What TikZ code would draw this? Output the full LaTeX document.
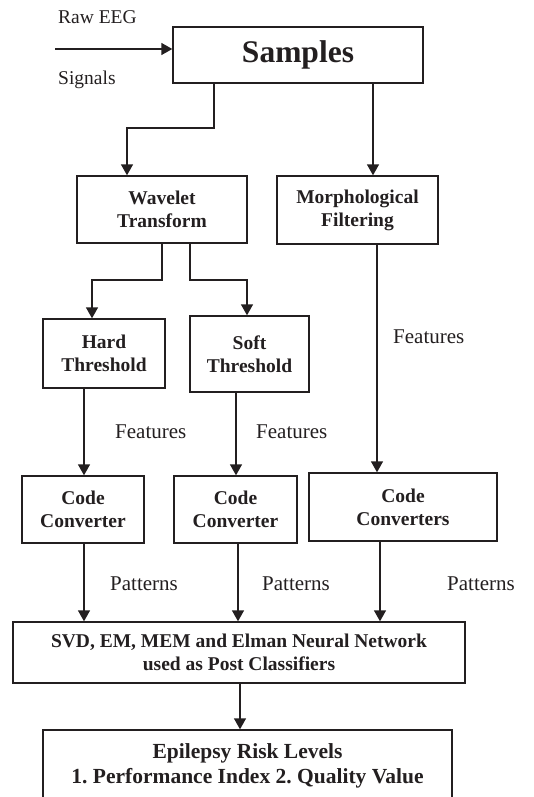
\documentclass[tikz,border=0pt]{standalone}
\usepackage{fontspec}
\setmainfont{Liberation Serif}
\usetikzlibrary{arrows.meta}
\definecolor{ink}{HTML}{231F20}
\begin{document}
\begin{tikzpicture}[x=1pt,y=-1pt,
  box/.style={draw=ink,line width=1.4pt,inner sep=0pt,align=center,text=ink,
    font=\fontsize{19.5}{23}\selectfont\bfseries},
  lbl/.style={inner sep=0pt,anchor=base west,text=ink,font=\fontsize{21}{24}\selectfont},
  arr/.style={draw=ink,line width=1.4pt,-{Triangle[length=11pt,width=12pt]}}]
\useasboundingbox[fill=white] (0,0) rectangle (533,797);
\node[box,minimum width=250pt,minimum height=56pt,font=\fontsize{31.5}{34}\selectfont\bfseries] (samples) at (298,55) {Samples};
\node[box,minimum width=170pt,minimum height=67pt] (wavelet) at (162,209.5) {Wavelet\\Transform};
\node[box,minimum width=161pt,minimum height=68pt] (morph) at (357.5,210) {Morphological\\Filtering};
\node[box,minimum width=122pt,minimum height=69pt] (hard) at (104,353.5) {Hard\\Threshold};
\node[box,minimum width=119pt,minimum height=76pt] (soft) at (249.5,354) {Soft\\Threshold};
\node[box,minimum width=122pt,minimum height=67pt] (cc1) at (83,509.5) {Code\\Converter};
\node[box,minimum width=123pt,minimum height=67pt] (cc2) at (235.5,509.5) {Code\\Converter};
\node[box,minimum width=188pt,minimum height=68pt] (cc3) at (403,507) {Code\\Converters};
\node[box,minimum width=452pt,minimum height=61pt] (cls) at (239,652.5) {SVD, EM, MEM and Elman Neural Network\\used as Post Classifiers};
\node[box,minimum width=409pt,minimum height=72pt,font=\fontsize{21.5}{25}\selectfont\bfseries\frenchspacing] (epi) at (247.5,766) {Epilepsy Risk Levels\\1. Performance Index 2. Quality Value};
% labels
\node[lbl,font=\fontsize{19.5}{22}\selectfont] (raw) at (58,24) {Raw EEG};
\node[lbl,font=\fontsize{19.5}{22}\selectfont] (sig) at (58,85) {Signals};
\node[lbl] (f1) at (115,438) {Features};
\node[lbl] (f2) at (256,438) {Features};
\node[lbl] (f3) at (393,343) {Features};
\node[lbl] (p1) at (110,590) {Patterns};
\node[lbl] (p2) at (262,590) {Patterns};
\node[lbl] (p3) at (447,590) {Patterns};
% connectors
\coordinate (in) at (55,49);
\draw[arr] (in) -- (samples.west |- in);
\draw[arr] (samples.south -| 214,0) -- (214,128) -- (127,128) -- (wavelet.north -| 127,0);
\draw[arr] (samples.south -| 373,0) -- (morph.north -| 373,0);
\draw[arr] (wavelet.south -| 162,0) -- (162,280) -- (92,280) -- (hard.north -| 92,0);
\draw[arr] (wavelet.south -| 190,0) -- (190,280) -- (247,280) -- (soft.north -| 247,0);
\draw[arr] (hard.south -| 84,0) -- (cc1.north -| 84,0);
\draw[arr] (soft.south -| 236,0) -- (cc2.north -| 236,0);
\draw[arr] (morph.south -| 377,0) -- (cc3.north -| 377,0);
\draw[arr] (cc1.south -| 84,0) -- (cls.north -| 84,0);
\draw[arr] (cc2.south -| 238,0) -- (cls.north -| 238,0);
\draw[arr] (cc3.south -| 380,0) -- (cls.north -| 380,0);
\draw[arr] (cls.south -| 240,0) -- (epi.north -| 240,0);
\end{tikzpicture}
\end{document}
